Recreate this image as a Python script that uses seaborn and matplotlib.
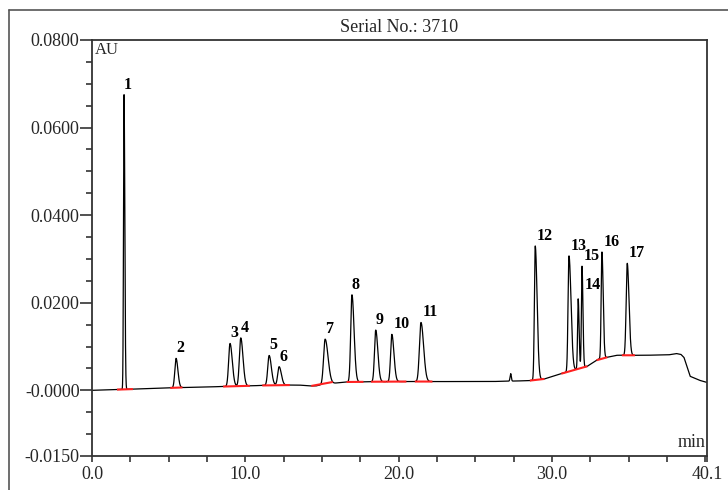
import numpy as np
import pandas as pd
import matplotlib
matplotlib.use("Agg")
import matplotlib.pyplot as plt
from matplotlib.lines import Line2D
from matplotlib.ticker import FixedLocator, FixedFormatter, MultipleLocator
import seaborn as sns

# ---- data ----
peak_labels = ["1", "2", "3", "4", "5", "6", "7", "8", "9", "10", "11",
               "12", "13", "14", "15", "16", "17"]
peak_times = [2.09, 5.48, 9.0, 9.7, 11.55, 12.2, 15.2, 16.95, 18.5, 19.55, 21.45,
              28.9, 31.1, 31.7, 31.95, 33.25, 34.9]
peak_heights = [0.0673, 0.0067, 0.0098, 0.0110, 0.0068, 0.0042, 0.0103, 0.0199,
                0.0118, 0.0108, 0.0135, 0.0306, 0.0264, 0.0160, 0.0232, 0.0243, 0.0210]
peak_sigmas = [0.035, 0.08, 0.09, 0.09, 0.09, 0.09, 0.10, 0.08, 0.08, 0.08, 0.10,
               0.055, 0.06, 0.04, 0.04, 0.05, 0.07]
peak_tails = [1.4, 1.5, 1.6, 1.6, 1.6, 1.6, 1.9, 1.7, 1.7, 1.7, 1.7,
              2.2, 2.2, 1.5, 1.5, 1.6, 1.6]

minor_peak_times = [27.3]
minor_peak_heights = [0.0017]

baseline_t = [0.0, 2.0, 5.5, 9.0, 12.0, 13.5, 14.2, 14.6, 15.0, 16.5, 20.0, 26.0,
              28.5, 29.5, 30.6, 32.3, 33.0, 34.2, 36.0, 37.6, 38.1, 38.4, 38.6,
              39.0, 39.6, 40.1]
baseline_v = [0.0, 0.0002, 0.0006, 0.0009, 0.0012, 0.0012, 0.0010, 0.0010, 0.0013,
              0.0019, 0.0020, 0.0020, 0.0022, 0.0026, 0.0038, 0.0055, 0.0071, 0.0080,
              0.0080, 0.0081, 0.0084, 0.0082, 0.0075, 0.0032, 0.0023, 0.0018]

# integration baseline segments (start, end) in minutes
seg_start = [1.63, 5.1, 8.55, 11.1, 14.3, 16.6, 18.2, 19.2, 21.05, 28.55, 30.6, 32.9, 34.55]
seg_end = [2.67, 5.9, 10.3, 12.9, 15.7, 17.7, 19.2, 20.5, 22.2, 29.5, 32.3, 33.6, 35.4]

y_ticks = [-0.015, 0.0, 0.02, 0.04, 0.06, 0.08]
y_tick_labels = ["-0.0150", "-0.0000", "0.0200", "0.0400", "0.0600", "0.0800"]
x_ticks = [0.0, 10.0, 20.0, 30.0, 40.1]
x_tick_labels = ["0.0", "10.0", "20.0", "30.0", "40.1"]

# ---- build trace ----
t = np.linspace(0, 40.1, 8000)
signal = np.interp(t, baseline_t, baseline_v)
for rt, h, s, tl in zip(peak_times, peak_heights, peak_sigmas, peak_tails):
    sig = np.where(t < rt, s, s * tl)
    signal = signal + h * np.exp(-0.5 * ((t - rt) / sig) ** 2)
for rt, h in zip(minor_peak_times, minor_peak_heights):
    signal = signal + h * np.exp(-0.5 * ((t - rt) / 0.04) ** 2)
df = pd.DataFrame({"t": t, "au": signal})

sns.set_theme(style="white")
plt.rcParams["font.family"] = ["Liberation Serif", "DejaVu Serif"]

fig = plt.figure(figsize=(7.28, 4.90), dpi=100)
ax = fig.add_axes([92 / 728, 1 - 456 / 490, (707 - 92) / 728, (456 - 40) / 490])

sns.lineplot(data=df, x="t", y="au", ax=ax, color="black", linewidth=0.9)

# integration baselines
for a, b in zip(seg_start, seg_end):
    ya, yb = np.interp([a, b], t, signal)
    ax.plot([a, b], [ya, yb], color="#ff2020", linewidth=1.5, zorder=3,
            solid_capstyle="butt")

# peak labels
for lab, rt in zip(peak_labels, peak_times):
    apex = np.interp(rt, t, signal)
    dx = 1.0 if len(lab) == 2 else 0.0
    dy = 1.5
    if lab == "14":
        dx, dy = 4.5, 4.0
    ax.annotate(lab, xy=(rt, apex), xytext=(dx, dy), textcoords="offset points",
                ha="left", va="bottom", fontsize=11.5, fontweight="bold", color="black")

ax.set_xlim(0, 40.1)
ax.set_ylim(-0.015, 0.08)
ax.set_xlabel("")
ax.set_ylabel("")

ax.xaxis.set_major_locator(FixedLocator(x_ticks))
ax.xaxis.set_major_formatter(FixedFormatter(x_tick_labels))
ax.xaxis.set_minor_locator(MultipleLocator(2.5))
ax.yaxis.set_major_locator(FixedLocator(y_ticks))
ax.yaxis.set_major_formatter(FixedFormatter(y_tick_labels))
ax.yaxis.set_minor_locator(MultipleLocator(0.005))

ax.tick_params(axis="y", which="major", direction="out", length=9, width=1.2,
               color="#333333", pad=0, labelsize=13, left=True)
ax.tick_params(axis="y", which="minor", direction="out", length=4.5, width=1.2,
               color="#333333", left=True)
ax.tick_params(axis="x", which="major", direction="out", length=4.5, width=1.2,
               color="#333333", pad=3, labelsize=13, bottom=True)
ax.tick_params(axis="x", which="minor", direction="out", length=4.5, width=1.2,
               color="#333333", bottom=True)
for sp in ax.spines.values():
    sp.set_color("#333333")
    sp.set_linewidth(1.3)

ax.text(0.004, 0.995, "AU", transform=ax.transAxes, ha="left", va="top", fontsize=12)
ax.text(0.998, 0.012, "min", transform=ax.transAxes, ha="right", va="bottom", fontsize=13)

fig.text(0.5 * (92 + 707) / 728, 1 - 28 / 490, "Serial No.: 3710", ha="center",
         va="center", fontsize=13)

# outer frame (top and left edges)
fig.add_artist(Line2D([9 / 728, 9 / 728], [0, 1 - 10 / 490], transform=fig.transFigure,
                      color="#555555", linewidth=1.2))
fig.add_artist(Line2D([9 / 728, 1.0], [1 - 10 / 490, 1 - 10 / 490], transform=fig.transFigure,
                      color="#555555", linewidth=1.2))

fig.savefig("out.png", dpi=100)
